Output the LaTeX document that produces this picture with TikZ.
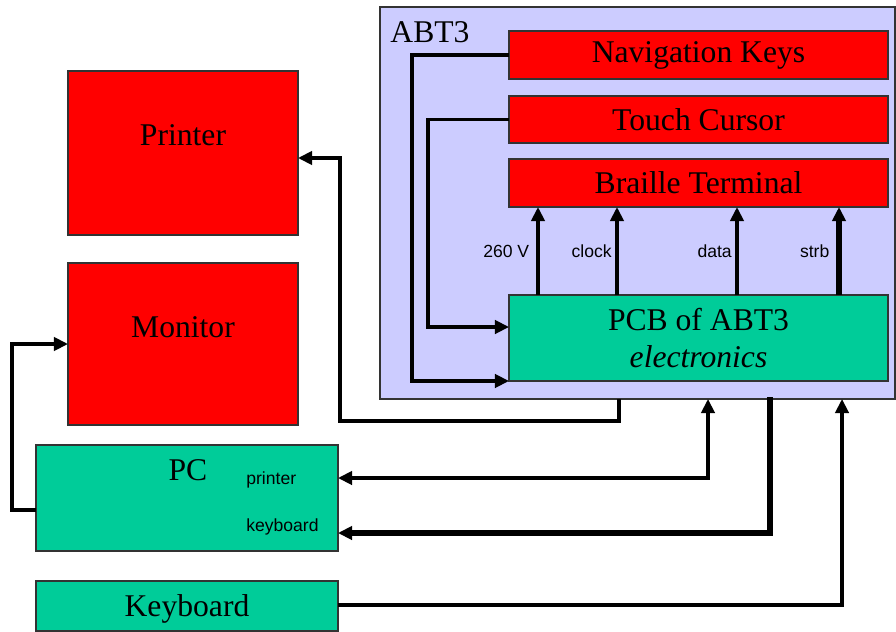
\documentclass[tikz,border=0pt]{standalone}
\usepackage{fontspec}
\setmainfont{Liberation Serif}
\newfontfamily\sigfont{Liberation Sans}
\usepackage{tikz}
\usetikzlibrary{positioning, arrows.meta, calc}

\definecolor{boxred}{HTML}{FF0000}
\definecolor{boxgreen}{HTML}{00CC99}
\definecolor{abtblue}{HTML}{CCCCFF}
\definecolor{edge}{HTML}{333333}

\begin{document}
\begin{tikzpicture}[x=0.02cm, y=-0.02cm, >={Triangle[length=8pt,width=7.5pt]},
    unit/.style={rectangle, draw=edge, line width=0.7pt, inner sep=0pt, outer sep=0pt, font=\fontsize{18}{21.5}\selectfont},
    redunit/.style={unit, fill=boxred},
    greenunit/.style={unit, fill=boxgreen},
    wire/.style={line width=2pt},
    fatwire/.style={line width=3pt},
    sig/.style={font=\sigfont\fontsize{10}{12}\selectfont, inner sep=2pt}]
            \useasboundingbox (0,0) rectangle (896,632);

            % ABT3 housing
            \node[unit, fill=abtblue, minimum width=10.3cm, minimum height=7.84cm] (abt3) at (637.5,203) {};
            \node[font=\fontsize{18}{21.5}\selectfont] (abt3lbl) at (430,32) {ABT3};

            \node[redunit, minimum width=7.58cm, minimum height=0.96cm] (navkeys) at (698.5,55) {Navigation Keys};
            \node[redunit, minimum width=7.58cm, minimum height=0.94cm] (touch) at (698.5,119.5) {Touch Cursor};
            \node[redunit, minimum width=7.58cm, minimum height=0.96cm] (braille) at (698.5,183) {Braille Terminal};
            \node[greenunit, minimum width=7.58cm, minimum height=1.72cm, align=center] (pcb) at (698.5,338) {PCB of ABT3\\\textit{electronics}};

            % outside units
            \node[redunit, minimum width=4.6cm, minimum height=3.28cm] (printer) at (183,153) {};
            \node[font=\fontsize{18}{21.5}\selectfont] (printerlbl) at (183,135) {Printer};
            \node[redunit, minimum width=4.6cm, minimum height=3.24cm] (monitor) at (183,344) {};
            \node[font=\fontsize{18}{21.5}\selectfont] (monitorlbl) at (183,327) {Monitor};
            \node[greenunit, minimum width=6.04cm, minimum height=2.12cm] (pc) at (187,498) {};
            \node[font=\fontsize{18}{21.5}\selectfont] (pclbl) at (188,470) {PC};
            \node[sig, anchor=west, inner sep=0pt] (pcprn) at (246,480) {printer};
            \node[sig, anchor=west, inner sep=0pt] (pckbd) at (246,527) {keyboard};
            \node[greenunit, minimum width=6.04cm, minimum height=1.0cm] (keyboard) at (187,606) {};
            \node[font=\fontsize{18}{21.5}\selectfont] (keyboardlbl) at (187,609) {Keyboard};

            % inside ABT3
            \draw[->, wire] (navkeys.west) -- ++(-97,0) |- (pcb.south west);
            \draw[->, wire] (touch.west) -- ++(-81,0) |- ([yshift=0.22cm]pcb.west);
            \draw[->, wire] (pcb.north -| 538,0) -- (braille.south -| 538,0) node[sig, left, pos=0.5, inner sep=4pt] (sigpwr) {260 V};
            \foreach \xx/\lbl in {617/clock, 737/data}
                \draw[->, wire] (pcb.north -| \xx,0) -- (braille.south -| \xx,0) node[sig, left, pos=0.5] (sig\xx) {\lbl};
            \draw[->, fatwire] (pcb.north -| 839,0) -- (braille.south -| 839,0) node[sig, left, pos=0.5, inner sep=4pt] (sigstrb) {strb};

            % cabling
            \draw[->, wire] (abt3.south -| 619,0) |- (340,421) |- ([yshift=-0.1cm]printer.east);
            \draw[<->, wire] (abt3.south -| 708,0) |- (pc.east |- 0,478);
            \draw[->, line width=3.5pt] (770,397) |- (pc.east |- 0,533);
            \draw[->, wire] (keyboard.east |- 0,605) -| (abt3.south -| 842,0);
            \draw[->, wire] (pc.west |- 0,510) -- ++(-24,0) |- (monitor.west);
        \end{tikzpicture}
\end{document}
